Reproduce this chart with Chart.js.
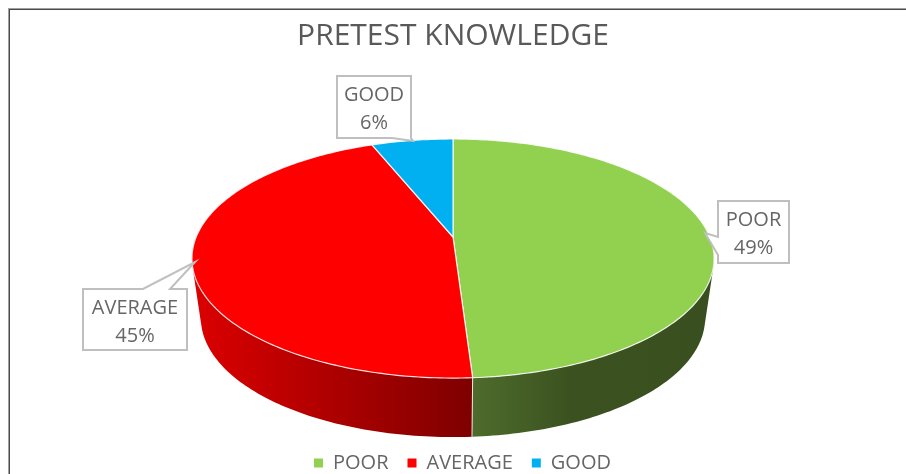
<!DOCTYPE html>
<html>
<head>
<meta charset="utf-8">
<style>
  html, body { margin: 0; padding: 0; background: #fff; overflow: hidden; }
  #wrap { width: 906px; height: 483px; }
</style>
<script src="https://cdn.jsdelivr.net/npm/chart.js@4"></script>
</head>
<body>
<div id="wrap"><canvas id="pie"></canvas></div>
<script>
const categories = ["POOR", "AVERAGE", "GOOD"]
const percentages = [49, 45, 6]
const sliceColors = ["#92d050", "#ff0000", "#00b0f0"]

// side wall colours, left to right
const wallColors = [
    [[472, "#4e6c2c"], [570, "#3b5220"], [712, "#394f1f"]],
    [[193, "#dc0000"], [470, "#7f0000"]],
    [[373, "#0080b0"], [453, "#006a94"]]
]

// callout boxes: box x, y, w, h and the wedge (tip, then two points on the box edge)
const callouts = [
    { box: [718, 201, 71, 62], tip: [705, 233], side: "left", from: 237, to: 255 },
    { box: [83, 289, 104, 61], tip: [195, 262], side: "top", from: 143, to: 170 },
    { box: [337, 76, 74, 62], tip: [413, 141], side: "bottom", from: 411, to: 392 }
]

// Excel's 3D pie has perspective, so the rim is not a plain squashed circle
const persp = -0.18
const topFace = { cx: 453, b: 237, a: 73, r: 256.8 }
const bottomFace = { cx: 453, b: 296.6, a: 61.8, r: 248 }

function project(face, angle) {
    let X = Math.cos(angle)
    let Y = Math.sin(angle)
    let w = 1 + persp * Y
    return [face.cx + face.r * X / w, (face.b + face.a * Y) / w]
}

function rimAngles(start, end) {
    let angles = []
    let steps = Math.ceil((end - start) / (Math.PI / 180))
    for (let i = 0; i <= steps; i++) {
        angles.push(start + (end - start) * i / steps)
    }
    return angles
}

// adds a quad to the current path, always with the same winding
function addQuad(ctx, pts) {
    let area = 0
    pts.forEach((p, i) => {
        let q = pts[(i + 1) % pts.length]
        area += p[0] * q[1] - q[0] * p[1]
    })
    if (area < 0) pts = pts.slice().reverse()
    pts.forEach((p, i) => i ? ctx.lineTo(p[0], p[1]) : ctx.moveTo(p[0], p[1]))
    ctx.closePath()
}

const pie3d = {
    id: "pie3d",
    beforeDraw(chart) {
        let ctx = chart.ctx
        ctx.save()
        ctx.fillStyle = "#fff"
        ctx.fillRect(0, 0, chart.width, chart.height)
        ctx.fillStyle = "#a0a0a0"
        ctx.fillRect(9, 8, chart.width - 9, 1)
        ctx.fillRect(8, 8, 1, chart.height - 8)
        ctx.fillStyle = "#4a4a4a"
        ctx.fillRect(9, 9, chart.width - 9, 1)
        ctx.fillRect(9, 9, 1, chart.height - 9)
        ctx.restore()
    },
    afterLayout(chart) {
        // the legend sits a bit right of the middle in the original
        chart.legend.left += 19
    },
    beforeDatasetsDraw(chart) {
        let ctx = chart.ctx
        let arcs = chart.getDatasetMeta(0).data
        ctx.save()

        // walls first, only the front half shows. All quads go in one path so no seams
        arcs.forEach((arc, i) => {
            let angles = rimAngles(arc.startAngle, arc.endAngle)
            let stops = wallColors[i]
            let x0 = stops[0][0]
            let x1 = stops[stops.length - 1][0]
            let grad = ctx.createLinearGradient(x0, 0, x1, 0)
            stops.forEach(s => grad.addColorStop((s[0] - x0) / (x1 - x0), s[1]))
            ctx.beginPath()
            for (let k = 0; k < angles.length - 1; k++) {
                if (Math.sin(angles[k]) < 0 || Math.sin(angles[k + 1]) < 0) continue
                addQuad(ctx, [
                    project(topFace, angles[k]),
                    project(topFace, angles[k + 1]),
                    project(bottomFace, angles[k + 1]),
                    project(bottomFace, angles[k])
                ])
            }
            ctx.fillStyle = grad
            ctx.fill()
        })

        // seams on the front of the wall
        arcs.forEach(arc => {
            if (Math.sin(arc.startAngle) > 0) {
                let a = project(topFace, arc.startAngle)
                let b = project(bottomFace, arc.startAngle)
                ctx.beginPath()
                ctx.moveTo(a[0], a[1])
                ctx.lineTo(b[0], b[1])
                ctx.strokeStyle = "rgba(255,255,255,0.85)"
                ctx.lineWidth = 1
                ctx.stroke()
            }
        })

        // top face
        arcs.forEach(arc => {
            ctx.beginPath()
            ctx.moveTo(topFace.cx, topFace.b)
            rimAngles(arc.startAngle, arc.endAngle).forEach(a => {
                let p = project(topFace, a)
                ctx.lineTo(p[0], p[1])
            })
            ctx.closePath()
            ctx.fillStyle = arc.options.backgroundColor
            ctx.fill()
            ctx.strokeStyle = "rgba(255,255,255,0.85)"
            ctx.lineWidth = 1.2
            ctx.lineJoin = "round"
            ctx.stroke()
        })
        ctx.restore()

        // everything is drawn above, skip the flat pie
        return false
    },
    afterDraw(chart) {
        let ctx = chart.ctx
        ctx.save()
        callouts.forEach((c, i) => {
            let [x, y, w, h] = c.box
            ctx.beginPath()
            ctx.moveTo(x, y)
            if (c.side === "top") {
                ctx.lineTo(c.from, y)
                ctx.lineTo(c.tip[0], c.tip[1])
                ctx.lineTo(c.to, y)
            }
            ctx.lineTo(x + w, y)
            ctx.lineTo(x + w, y + h)
            if (c.side === "bottom") {
                ctx.lineTo(c.from, y + h)
                ctx.lineTo(c.tip[0], c.tip[1])
                ctx.lineTo(c.to, y + h)
            }
            ctx.lineTo(x, y + h)
            if (c.side === "left") {
                ctx.lineTo(x, c.to)
                ctx.lineTo(c.tip[0], c.tip[1])
                ctx.lineTo(x, c.from)
            }
            ctx.closePath()
            ctx.fillStyle = "#fff"
            ctx.fill()
            ctx.strokeStyle = "#bfbfbf"
            ctx.lineWidth = 2
            ctx.stroke()

            ctx.fillStyle = "#666666"
            ctx.font = "20px 'Open Sans'"
            ctx.textAlign = "center"
            ctx.textBaseline = "middle"
            ctx.fillText(categories[i], x + w / 2, y + 19)
            ctx.fillText(percentages[i] + "%", x + w / 2, y + 47)
        })
        ctx.restore()
    }
}

const pieConfig = {
    type: "pie",
    data: {
        labels: categories,
        datasets: [{ data: percentages, backgroundColor: sliceColors, borderWidth: 0 }]
    },
    options: {
        responsive: true,
        maintainAspectRatio: false,
        animation: false,
        layout: { padding: { top: 18, bottom: 0 } },
        plugins: {
            tooltip: { enabled: false },
            title: {
                display: true,
                text: "PRETEST KNOWLEDGE",
                color: "#595959",
                font: { family: "'Open Sans'", size: 30, weight: "normal" },
                padding: { top: 0, bottom: 10 }
            },
            legend: {
                position: "bottom",
                labels: {
                    color: "#666666",
                    font: { family: "'Open Sans'", size: 20 },
                    boxWidth: 9,
                    boxHeight: 9,
                    padding: 19
                }
            }
        }
    },
    plugins: [pie3d]
}

var pieChart = new Chart(document.getElementById("pie"), pieConfig)
</script>
</body>
</html>
